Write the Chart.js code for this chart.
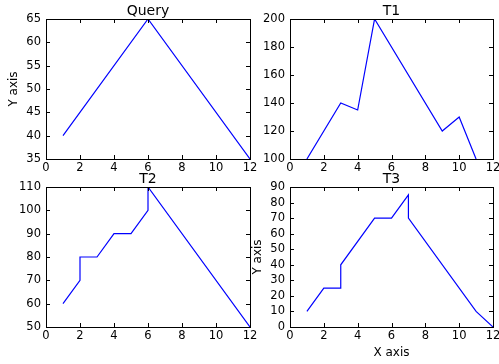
<!DOCTYPE html>
<html>
<head>
<meta charset="utf-8">
<script src="https://cdn.jsdelivr.net/npm/chart.js@4.4.1/dist/chart.umd.min.js"></script>
<style>
  html, body { margin: 0; padding: 0; background: #fff; }
  #wrap { position: relative; width: 499px; height: 364px; overflow: hidden; }
  #wrap canvas { position: absolute; left: 0; top: 0; }
</style>
</head>
<body>
<div id="wrap">
  <canvas id="c0" width="499" height="364"></canvas>
  <canvas id="c1" width="499" height="364"></canvas>
  <canvas id="c2" width="499" height="364"></canvas>
  <canvas id="c3" width="499" height="364"></canvas>
</div>
<script>
// ---- Data ----
const titles = ["Query", "T1", "T2", "T3"];

const queryX = [1, 6, 12];
const queryY = [40, 65, 35];

const t1X = [1, 3, 4, 5, 9, 10, 11];
const t1Y = [100, 140, 135, 200, 120, 130, 100];

const t2X = [1, 2, 2, 3, 4, 5, 6, 6, 12];
const t2Y = [60, 70, 80, 80, 90, 90, 100, 110, 50];

const t3X = [1, 2, 3, 3, 5, 6, 7, 7, 11, 12];
const t3Y = [10, 25, 25, 40, 70, 70, 85, 70, 10, 0];

const xTickMin = 0, xTickMax = 12, xTickStep = 2;
const yRanges = [
  { min: 35, max: 65, step: 5 },
  { min: 100, max: 200, step: 20 },
  { min: 50, max: 110, step: 10 },
  { min: 0, max: 90, step: 10 }
];
const xLabel = "X axis";
const yLabel = "Y axis";

// ---- Layout ----
const W = 499, H = 364;
const FONT = "'DejaVu Sans', sans-serif";
const panels = [
  { id: "c0", xs: queryX, ys: queryY, plot: { l: 46, r: 250, t: 19, b: 159 }, yTitle: true, xTitle: false },
  { id: "c1", xs: t1X, ys: t1Y, plot: { l: 290, r: 493, t: 19, b: 159 }, yTitle: false, xTitle: false },
  { id: "c2", xs: t2X, ys: t2Y, plot: { l: 46, r: 250, t: 187, b: 327 }, yTitle: false, xTitle: false },
  { id: "c3", xs: t3X, ys: t3Y, plot: { l: 290, r: 493, t: 187, b: 327 }, yTitle: true, xTitle: true }
];

const frameAndTicks = {
  id: 'frameAndTicks',
  afterDatasetsDraw(chart) {
    const { ctx, chartArea: a, scales } = chart;
    const L = 4;
    ctx.save();
    ctx.strokeStyle = '#000';
    ctx.lineWidth = 1;
    ctx.beginPath();
    scales.x.ticks.forEach(t => {
      const px = Math.round(scales.x.getPixelForValue(t.value)) + 0.5;
      ctx.moveTo(px, a.bottom); ctx.lineTo(px, a.bottom - L);
      ctx.moveTo(px, a.top); ctx.lineTo(px, a.top + L);
    });
    scales.y.ticks.forEach(t => {
      const py = Math.round(scales.y.getPixelForValue(t.value)) + 0.5;
      ctx.moveTo(a.left, py); ctx.lineTo(a.left + L, py);
      ctx.moveTo(a.right, py); ctx.lineTo(a.right - L, py);
    });
    ctx.stroke();
    ctx.strokeRect(Math.round(a.left) + 0.5, Math.round(a.top) + 0.5,
      Math.round(a.right - a.left), Math.round(a.bottom - a.top));
    // panel title
    ctx.fillStyle = '#000';
    ctx.font = "14px " + FONT;
    ctx.textAlign = 'center';
    ctx.textBaseline = 'alphabetic';
    ctx.fillText(chart.options.plugins.panelTitle.text, (a.left + a.right) / 2, a.top - 4);
    ctx.restore();
  }
};

panels.forEach((p, i) => {
  const yW = 39;
  const xH = p.xTitle ? 33 : 20;
  const pad = {
    left: p.plot.l - yW,
    right: W - p.plot.r,
    top: p.plot.t,
    bottom: H - p.plot.b - xH
  };
  const yr = yRanges[i];
  new Chart(document.getElementById(p.id), {
    type: 'scatter',
    data: {
      datasets: [{
        data: p.xs.map((x, k) => ({ x: x, y: p.ys[k] })),
        showLine: true,
        borderColor: '#0000ff',
        backgroundColor: '#0000ff',
        borderWidth: 1.2,
        pointRadius: 0,
        tension: 0
      }]
    },
    options: {
      responsive: false,
      animation: false,
      devicePixelRatio: 1,
      layout: { padding: pad },
      plugins: {
        legend: { display: false },
        tooltip: { enabled: false },
        title: { display: false },
        panelTitle: { text: titles[i] }
      },
      scales: {
        x: {
          type: 'linear',
          min: xTickMin, max: xTickMax,
          ticks: { stepSize: xTickStep, color: '#000', font: { family: FONT, size: 11.5 }, padding: 2, maxRotation: 0, autoSkip: false },
          grid: { display: false, drawTicks: false },
          border: { display: false },
          title: { display: p.xTitle, text: xLabel, color: '#000', font: { family: FONT, size: 12 }, padding: 0 },
          afterFit(s) { s.height = xH; s.paddingLeft = 0; s.paddingRight = 0; }
        },
        y: {
          type: 'linear',
          min: yr.min, max: yr.max,
          ticks: { stepSize: yr.step, color: '#000', font: { family: FONT, size: 11.5 }, padding: 5, autoSkip: false },
          grid: { display: false, drawTicks: false },
          border: { display: false },
          title: { display: p.yTitle, text: yLabel, color: '#000', font: { family: FONT, size: 12 }, padding: 0 },
          afterFit(s) { s.width = yW; s.paddingTop = 0; s.paddingBottom = 0; }
        }
      }
    },
    plugins: [frameAndTicks]
  });
});
</script>
</body>
</html>
